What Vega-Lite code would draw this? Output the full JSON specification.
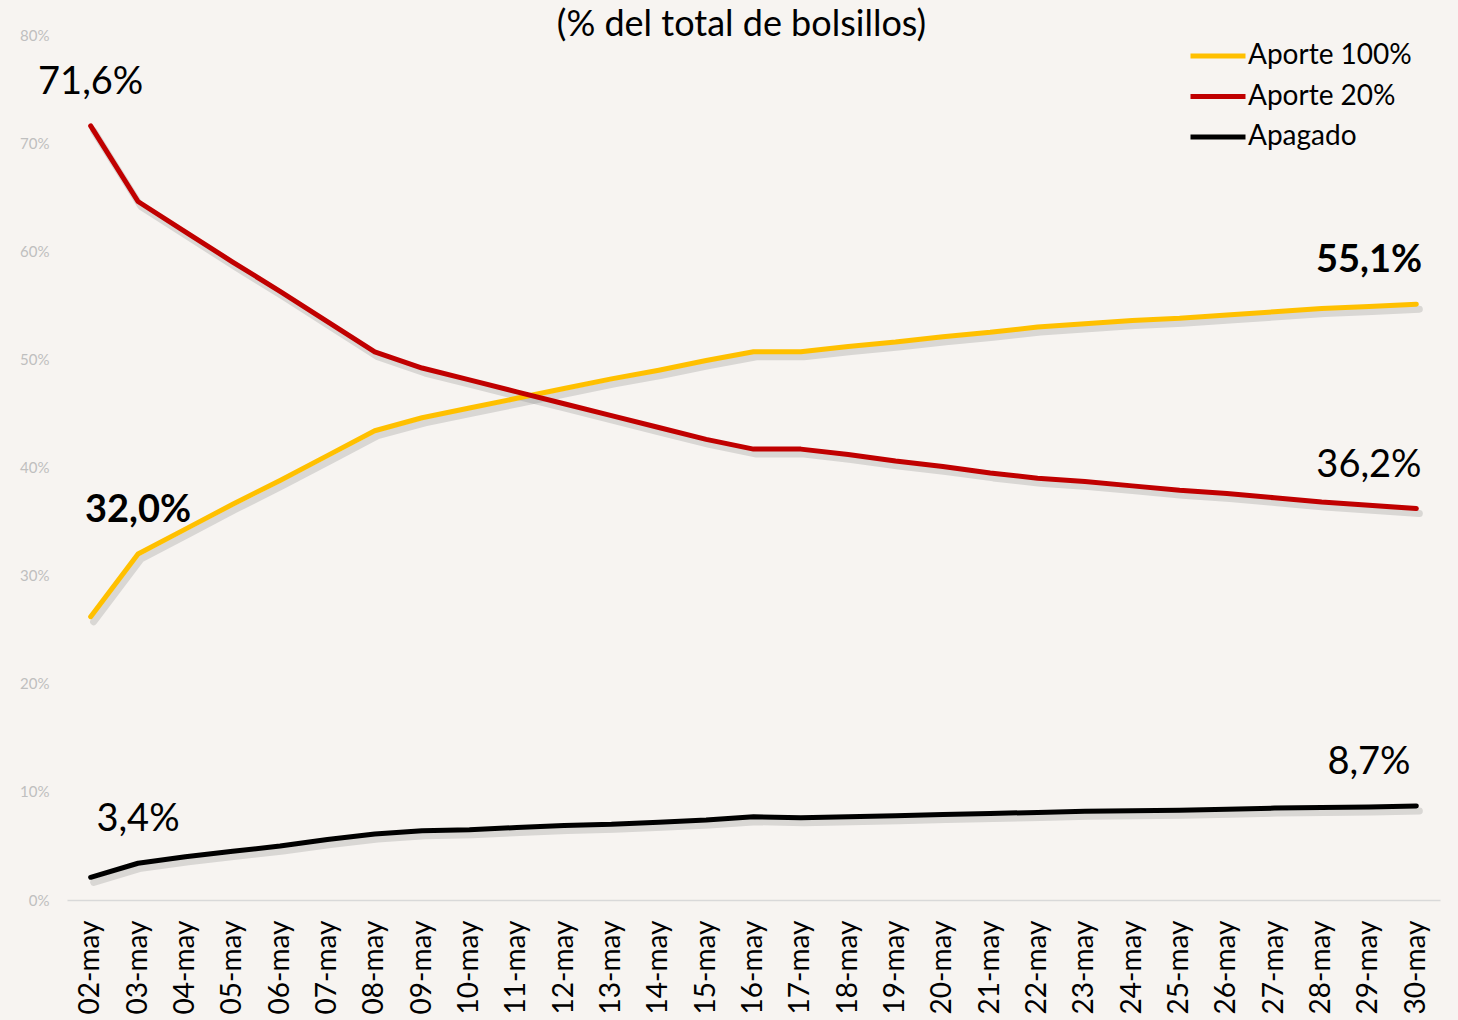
{
  "$schema": "https://vega.github.io/schema/vega-lite/v6.json",
  "width": 1373,
  "height": 865,
  "autosize": "none",
  "padding": {"left": 67, "top": 35, "right": 18, "bottom": 120},
  "background": "#F7F4F1",
  "config": {"view": {"stroke": null}, "font": "Lato"},
  "title": {"text": "(% del total de bolsillos)", "fontSize": 36, "font": "Lato", "fontWeight": "normal", "color": "#000000", "anchor": "middle", "dx": -12, "dy": 18, "offset": 2},
  "datasets": {
    "series": [
      {"date": "02-may", "serie": "Aporte 100%", "value": 26.2},
      {"date": "03-may", "serie": "Aporte 100%", "value": 32.0},
      {"date": "04-may", "serie": "Aporte 100%", "value": 34.3},
      {"date": "05-may", "serie": "Aporte 100%", "value": 36.6},
      {"date": "06-may", "serie": "Aporte 100%", "value": 38.8},
      {"date": "07-may", "serie": "Aporte 100%", "value": 41.1},
      {"date": "08-may", "serie": "Aporte 100%", "value": 43.4},
      {"date": "09-may", "serie": "Aporte 100%", "value": 44.6},
      {"date": "10-may", "serie": "Aporte 100%", "value": 45.5},
      {"date": "11-may", "serie": "Aporte 100%", "value": 46.4},
      {"date": "12-may", "serie": "Aporte 100%", "value": 47.3},
      {"date": "13-may", "serie": "Aporte 100%", "value": 48.2},
      {"date": "14-may", "serie": "Aporte 100%", "value": 49.0},
      {"date": "15-may", "serie": "Aporte 100%", "value": 49.9},
      {"date": "16-may", "serie": "Aporte 100%", "value": 50.7},
      {"date": "17-may", "serie": "Aporte 100%", "value": 50.7},
      {"date": "18-may", "serie": "Aporte 100%", "value": 51.2},
      {"date": "19-may", "serie": "Aporte 100%", "value": 51.6},
      {"date": "20-may", "serie": "Aporte 100%", "value": 52.1},
      {"date": "21-may", "serie": "Aporte 100%", "value": 52.5},
      {"date": "22-may", "serie": "Aporte 100%", "value": 53.0},
      {"date": "23-may", "serie": "Aporte 100%", "value": 53.3},
      {"date": "24-may", "serie": "Aporte 100%", "value": 53.6},
      {"date": "25-may", "serie": "Aporte 100%", "value": 53.8},
      {"date": "26-may", "serie": "Aporte 100%", "value": 54.1},
      {"date": "27-may", "serie": "Aporte 100%", "value": 54.4},
      {"date": "28-may", "serie": "Aporte 100%", "value": 54.7},
      {"date": "29-may", "serie": "Aporte 100%", "value": 54.9},
      {"date": "30-may", "serie": "Aporte 100%", "value": 55.1},
      {"date": "02-may", "serie": "Aporte 20%", "value": 71.6},
      {"date": "03-may", "serie": "Aporte 20%", "value": 64.6},
      {"date": "04-may", "serie": "Aporte 20%", "value": 61.8},
      {"date": "05-may", "serie": "Aporte 20%", "value": 59.0},
      {"date": "06-may", "serie": "Aporte 20%", "value": 56.3},
      {"date": "07-may", "serie": "Aporte 20%", "value": 53.5},
      {"date": "08-may", "serie": "Aporte 20%", "value": 50.7},
      {"date": "09-may", "serie": "Aporte 20%", "value": 49.2},
      {"date": "10-may", "serie": "Aporte 20%", "value": 48.1},
      {"date": "11-may", "serie": "Aporte 20%", "value": 47.0},
      {"date": "12-may", "serie": "Aporte 20%", "value": 45.9},
      {"date": "13-may", "serie": "Aporte 20%", "value": 44.8},
      {"date": "14-may", "serie": "Aporte 20%", "value": 43.7},
      {"date": "15-may", "serie": "Aporte 20%", "value": 42.6},
      {"date": "16-may", "serie": "Aporte 20%", "value": 41.7},
      {"date": "17-may", "serie": "Aporte 20%", "value": 41.7},
      {"date": "18-may", "serie": "Aporte 20%", "value": 41.2},
      {"date": "19-may", "serie": "Aporte 20%", "value": 40.6},
      {"date": "20-may", "serie": "Aporte 20%", "value": 40.1},
      {"date": "21-may", "serie": "Aporte 20%", "value": 39.5},
      {"date": "22-may", "serie": "Aporte 20%", "value": 39.0},
      {"date": "23-may", "serie": "Aporte 20%", "value": 38.7},
      {"date": "24-may", "serie": "Aporte 20%", "value": 38.3},
      {"date": "25-may", "serie": "Aporte 20%", "value": 37.9},
      {"date": "26-may", "serie": "Aporte 20%", "value": 37.6},
      {"date": "27-may", "serie": "Aporte 20%", "value": 37.2},
      {"date": "28-may", "serie": "Aporte 20%", "value": 36.8},
      {"date": "29-may", "serie": "Aporte 20%", "value": 36.5},
      {"date": "30-may", "serie": "Aporte 20%", "value": 36.2},
      {"date": "02-may", "serie": "Apagado", "value": 2.1},
      {"date": "03-may", "serie": "Apagado", "value": 3.4},
      {"date": "04-may", "serie": "Apagado", "value": 4.0},
      {"date": "05-may", "serie": "Apagado", "value": 4.5},
      {"date": "06-may", "serie": "Apagado", "value": 5.0},
      {"date": "07-may", "serie": "Apagado", "value": 5.6},
      {"date": "08-may", "serie": "Apagado", "value": 6.1},
      {"date": "09-may", "serie": "Apagado", "value": 6.4},
      {"date": "10-may", "serie": "Apagado", "value": 6.5},
      {"date": "11-may", "serie": "Apagado", "value": 6.7},
      {"date": "12-may", "serie": "Apagado", "value": 6.9},
      {"date": "13-may", "serie": "Apagado", "value": 7.0},
      {"date": "14-may", "serie": "Apagado", "value": 7.2},
      {"date": "15-may", "serie": "Apagado", "value": 7.4},
      {"date": "16-may", "serie": "Apagado", "value": 7.7},
      {"date": "17-may", "serie": "Apagado", "value": 7.6},
      {"date": "18-may", "serie": "Apagado", "value": 7.7},
      {"date": "19-may", "serie": "Apagado", "value": 7.8},
      {"date": "20-may", "serie": "Apagado", "value": 7.9},
      {"date": "21-may", "serie": "Apagado", "value": 8.0},
      {"date": "22-may", "serie": "Apagado", "value": 8.1},
      {"date": "23-may", "serie": "Apagado", "value": 8.2},
      {"date": "24-may", "serie": "Apagado", "value": 8.25},
      {"date": "25-may", "serie": "Apagado", "value": 8.3},
      {"date": "26-may", "serie": "Apagado", "value": 8.4},
      {"date": "27-may", "serie": "Apagado", "value": 8.5},
      {"date": "28-may", "serie": "Apagado", "value": 8.55},
      {"date": "29-may", "serie": "Apagado", "value": 8.6},
      {"date": "30-may", "serie": "Apagado", "value": 8.7}
    ],
    "labels": [
      {"date": "02-may", "value": 71.6, "label": "71,6%", "bold": false},
      {"date": "03-may", "value": 32.0, "label": "32,0%", "bold": true},
      {"date": "03-may", "value": 3.4, "label": "3,4%", "bold": false},
      {"date": "29-may", "value": 55.1, "label": "55,1%", "bold": true},
      {"date": "29-may", "value": 36.2, "label": "36,2%", "bold": false},
      {"date": "29-may", "value": 8.7, "label": "8,7%", "bold": false}
    ]
  },
  "encoding": {
    "x": {
      "field": "date", "type": "ordinal", "sort": "ascending",
      "scale": {"padding": 0.5},
      "axis": {"title": null, "labelAngle": -90, "labelFontSize": 28, "labelFont": "Lato", "labelColor": "#000000",
               "ticks": false, "labelPadding": 20, "domainColor": "#D9D9D9", "domainWidth": 1.5, "grid": false}
    },
    "y": {
      "field": "value", "type": "quantitative",
      "scale": {"domain": [0, 80], "nice": false},
      "axis": {"title": null, "values": [0, 10, 20, 30, 40, 50, 60, 70, 80], "labelExpr": "datum.value + '%'",
               "labelFontSize": 15, "labelFont": "Lato", "labelColor": "#BFBFBF", "domain": false, "ticks": false,
               "grid": false, "labelPadding": 18}
    }
  },
  "layer": [
    {
      "data": {"name": "series"},
      "mark": {"type": "line", "color": "#7F7F7F", "opacity": 0.25, "strokeWidth": 7, "xOffset": 3, "yOffset": 5, "strokeCap": "round", "strokeJoin": "round"},
      "encoding": {"detail": {"field": "serie"}}
    },
    {
      "data": {"name": "series"},
      "mark": {"type": "line", "strokeWidth": 5, "strokeCap": "round", "strokeJoin": "round"},
      "encoding": {
        "color": {
          "field": "serie", "type": "nominal",
          "scale": {"domain": ["Aporte 100%", "Aporte 20%", "Apagado"], "range": ["#FFC000", "#C00000", "#000000"]},
          "legend": {"title": null, "orient": "none", "legendX": 1121, "legendY": 1, "symbolType": "stroke",
                     "symbolSize": 3025, "symbolStrokeWidth": 5, "labelFontSize": 28, "labelFont": "Lato",
                     "labelColor": "#000000", "labelOffset": 0, "clipHeight": 40, "rowPadding": 0.5, "labelLimit": 400}
        }
      }
    },
    {
      "data": {"name": "labels"},
      "transform": [{"filter": "!datum.bold"}],
      "mark": {"type": "text", "fontSize": 38, "font": "Lato", "color": "#000000", "dy": -43, "baseline": "middle", "align": "center"},
      "encoding": {"text": {"field": "label"}}
    },
    {
      "data": {"name": "labels"},
      "transform": [{"filter": "datum.bold"}],
      "mark": {"type": "text", "fontSize": 38, "font": "Lato", "fontWeight": "bold", "color": "#000000", "dy": -43, "baseline": "middle", "align": "center"},
      "encoding": {"text": {"field": "label"}}
    }
  ]
}
